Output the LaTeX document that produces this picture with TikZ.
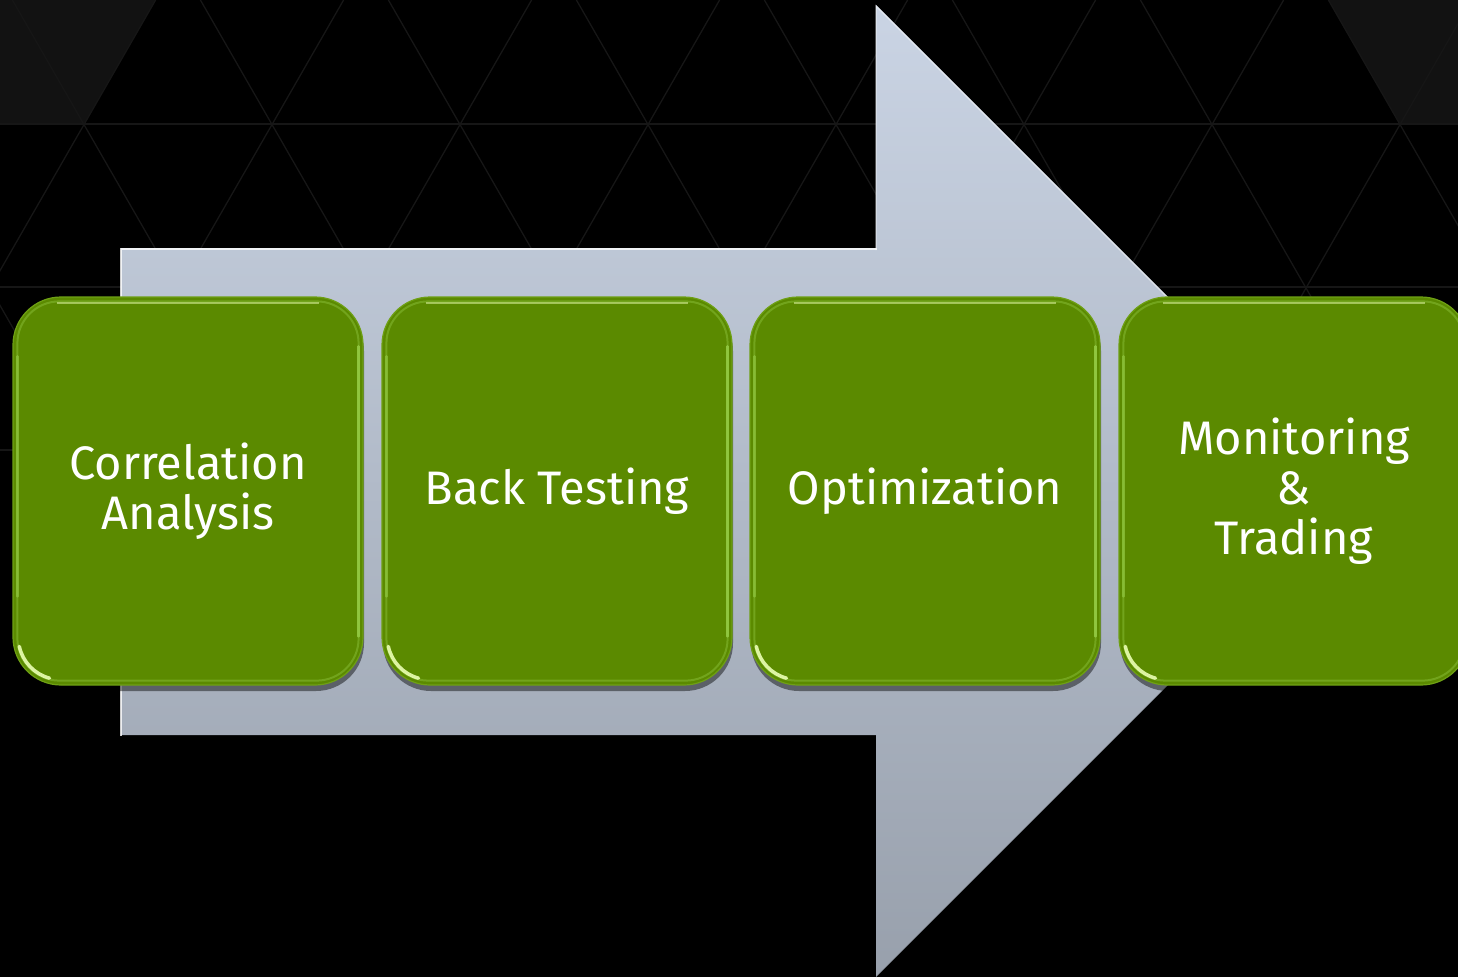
\documentclass[tikz,border=0pt]{standalone}
\usepackage{fontspec}
\setmainfont{Fira Sans}
\usetikzlibrary{shadows,fadings}
\definecolor{boxgreen}{RGB}{91,138,0}
\definecolor{boxedge}{RGB}{110,160,20}
\definecolor{hilite}{RGB}{150,205,70}
\definecolor{glow}{RGB}{235,255,180}
\definecolor{arrowtop}{RGB}{202,212,228}
\definecolor{arrowbot}{RGB}{152,160,172}
\definecolor{gridline}{RGB}{22,22,22}
\definecolor{gridfill}{RGB}{18,18,18}
\tikzset{
  stagebox/.style={rectangle, rounded corners=48pt, minimum width=350pt, minimum height=388pt,
    inner sep=0pt, fill=boxgreen, draw=boxedge, line width=1.2pt, align=center,
    text=white, font=\fontsize{47}{50}\selectfont,
    drop shadow={shadow xshift=1pt, shadow yshift=-6pt, opacity=0.45, fill=black}},
  innerglow/.style={rounded corners=42pt, draw=hilite, line width=2pt, opacity=0.4},
  cornerglow/.style={draw=glow, line width=3.5pt, line cap=round, opacity=0.9},
  grid/.style={draw=gridline, line width=1.3pt}
}
\begin{document}
\begin{tikzpicture}[x=1pt,y=-1pt]
\useasboundingbox (0,0) rectangle (1458,977);
\begin{scope}
\clip (0,0) rectangle (1458,977);
\fill[black] (0,0) rectangle (1458,977);
% faint background pattern
\fill[gridfill] (0,0) -- (156,0) -- (84,124) -- (0,124) -- cycle;
\fill[gridfill] (1328,0) -- (1458,0) -- (1458,124) -- (1400,124) -- cycle;
\begin{scope}
\clip (0,0) rectangle (1458,470);
\foreach \yy in {124,287,450} { \draw[grid] (0,\yy) -- (1458,\yy); }
\foreach \k in {-5,...,9} {
  \pgfmathsetmacro{\xa}{84+188*\k}
  \draw[grid] ({\xa-71.6},0) -- ({\xa+200},{124+348.4});
  \draw[grid] ({\xa+71.6},0) -- ({\xa-200},{124+348.4});
}
\end{scope}
% big arrow
\shade[top color=arrowtop, bottom color=arrowbot]
  (121,248) -- (876,248) -- (876,5) -- (1362,491) -- (876,977) -- (876,735) -- (121,735) -- cycle;
\draw[white, line width=2pt, opacity=0.8] (121,736) -- (121,249) -- (877,249);
\draw[white, line width=1.2pt, opacity=0.5] (876,250) -- (876,6) -- (1360,490);
\draw[black, line width=1pt, opacity=0.15] (1362,491) -- (876,977);
% stage boxes
\node[stagebox] (b1) at (188,491) {Correlation\\Analysis};
\node[stagebox] (b2) at (557,491) {Back Testing};
\node[stagebox] (b3) at (925,491) {Optimization};
\node[stagebox] (b4) at (1294,491) {Monitoring\\\&\\Trading};
\foreach \b in {b1,b2,b3,b4} {
  \draw[innerglow] ([shift={(5pt,-5pt)}]\b.north west) rectangle ([shift={(-5pt,5pt)}]\b.south east);
  \draw[cornerglow] ([shift={(48pt,48pt)}]\b.south west) ++(168:42) arc[start angle=168, end angle=105, radius=42];
  \draw[draw=hilite, line width=2.5pt, opacity=0.85, line cap=round] ([shift={(-5pt,-50pt)}]\b.north east) -- ([shift={(-5pt,-340pt)}]\b.north east);
  \draw[draw=hilite, line width=2.5pt, opacity=0.6, line cap=round] ([shift={(5pt,-60pt)}]\b.north west) -- ([shift={(5pt,-300pt)}]\b.north west);
  \draw[draw=glow, line width=2pt, opacity=0.5] ([shift={(45pt,-7pt)}]\b.north west) -- ([shift={(-45pt,-7pt)}]\b.north east);
}
\end{scope}
\end{tikzpicture}
\end{document}
